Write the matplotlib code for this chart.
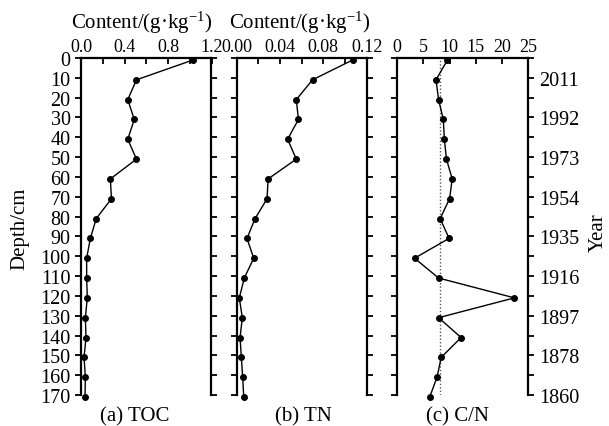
import matplotlib
matplotlib.use("Agg")
import matplotlib.pyplot as plt
import matplotlib.transforms as mtransforms
from matplotlib.ticker import MultipleLocator
import numpy as np

plt.rcParams['font.family'] = ['Liberation Serif', 'DejaVu Serif']
plt.rcParams['mathtext.fontset'] = 'custom'
plt.rcParams['mathtext.rm'] = 'Liberation Serif'
plt.rcParams['mathtext.it'] = 'Liberation Serif'
plt.rcParams['mathtext.bf'] = 'Liberation Serif'

# ---- data ----
depth = [1, 11, 21, 31, 41, 51, 61, 71, 81, 91, 101, 111, 121, 131, 141, 151, 161, 171]
toc = [1.03, 0.51, 0.43, 0.49, 0.43, 0.51, 0.27, 0.28, 0.14, 0.086, 0.052, 0.052,
       0.058, 0.040, 0.046, 0.028, 0.040, 0.037]
tn = [0.107, 0.070, 0.055, 0.057, 0.047, 0.055, 0.029, 0.028, 0.017, 0.0095, 0.0157,
      0.0070, 0.0024, 0.0052, 0.0031, 0.0043, 0.0055, 0.0065]
cn = [9.6, 7.4, 7.9, 8.8, 9.0, 9.4, 10.5, 10.0, 8.2, 9.9, 3.3, 7.9, 22.4, 7.9,
      12.2, 8.4, 7.6, 6.2]
cn_mean = 8.2
year_depths = [10, 30, 50, 70, 90, 110, 130, 150, 170]
year_labels = ['2011', '1992', '1973', '1954', '1935', '1916', '1897', '1878', '1860']
panel_labels = ['(a) TOC', '(b) TN', '(c) C/N']

W, H = 609, 427
fig = plt.figure(figsize=(W / 100, H / 100), dpi=100)

top_px, bot_px = 59, 396
def box(x0, x1):
    return [x0 / W, 1 - bot_px / H, (x1 - x0) / W, (bot_px - top_px) / H]

ax_a = fig.add_axes(box(81, 211.5))
ax_b = fig.add_axes(box(236.7, 366.7))
ax_c = fig.add_axes(box(397.3, 528.0))

fs_big = 15
fs_ytick = 14.5
fs_xtick = 13
lw_spine = 1.6

def style(ax, xmax, xmajor, xminor, fmt):
    ax.set_ylim(170, 0)
    ax.set_xlim(0, xmax)
    ax.spines['bottom'].set_visible(False)
    for s in ['top', 'left', 'right']:
        ax.spines[s].set_linewidth(lw_spine)
    ax.xaxis.set_major_locator(MultipleLocator(xmajor))
    if xminor:
        ax.xaxis.set_minor_locator(MultipleLocator(xminor))
    ax.xaxis.set_major_formatter(plt.FuncFormatter(lambda v, p: fmt.format(v)))
    ax.tick_params(axis='x', which='both', direction='in', top=True, bottom=False,
                   labeltop=True, labelbottom=False, length=4.5, width=1.3,
                   labelsize=fs_xtick, pad=2)
    ax.yaxis.set_major_locator(MultipleLocator(10))
    ax.tick_params(axis='y', which='both', direction='out', left=True, right=True,
                   labelleft=False, labelright=False, length=4, width=1.3,
                   labelsize=fs_ytick, pad=3.5)

style(ax_a, 1.2, 0.4, 0.2, '{:.1f}')
style(ax_b, 0.12, 0.04, 0.02, '{:.2f}')
style(ax_c, 25, 5, None, '{:.0f}')

ax_a.tick_params(axis='y', labelleft=True)

ax_c.set_yticks(year_depths)
ax_c.set_yticklabels(year_labels)
ax_c.yaxis.set_minor_locator(MultipleLocator(10))
ax_c.tick_params(axis='y', which='both', direction='out', left=True, right=True,
                 labelleft=False, labelright=True, length=4, width=1.3, pad=4,
                 labelsize=fs_ytick)
ax_c.tick_params(axis='y', which='minor', labelright=False)

for ax, vals in [(ax_a, toc), (ax_b, tn), (ax_c, cn)]:
    ax.plot(vals, depth, color='black', lw=1.0, marker='o', markersize=4,
            clip_on=False, zorder=3)

ax_c.axvline(cn_mean, color='#555555', lw=1.0, ls=(0, (1, 1.5)), zorder=2)

# nudge the two crowded top tick labels apart (as in the reference)
fig.canvas.draw()
def nudge(label, dx_px):
    label.set_transform(label.get_transform() +
                        mtransforms.ScaledTranslation(dx_px / 100, 0, fig.dpi_scale_trans))
nudge(ax_a.xaxis.get_majorticklabels()[-1], -3)
nudge(ax_b.xaxis.get_majorticklabels()[0], 3)

title = 'Content/(g\u00b7kg$^{-1}$)'
fig.text(142 / W, 1 - 28.5 / H, title, ha='center', va='baseline', fontsize=fs_big)
fig.text(300 / W, 1 - 28.5 / H, title, ha='center', va='baseline', fontsize=fs_big)

for xc, lab in zip([135, 303, 458], panel_labels):
    fig.text(xc / W, 1 - 421 / H, lab, ha='center', va='baseline', fontsize=fs_big)

fig.text(20 / W, 1 - 229 / H, 'Depth/cm', rotation=90, ha='center', va='center', fontsize=fs_big)
fig.text(598.5 / W, 1 - 233 / H, 'Year', rotation=90, ha='center', va='center', fontsize=fs_big)

fig.savefig('out.png', dpi=100)
